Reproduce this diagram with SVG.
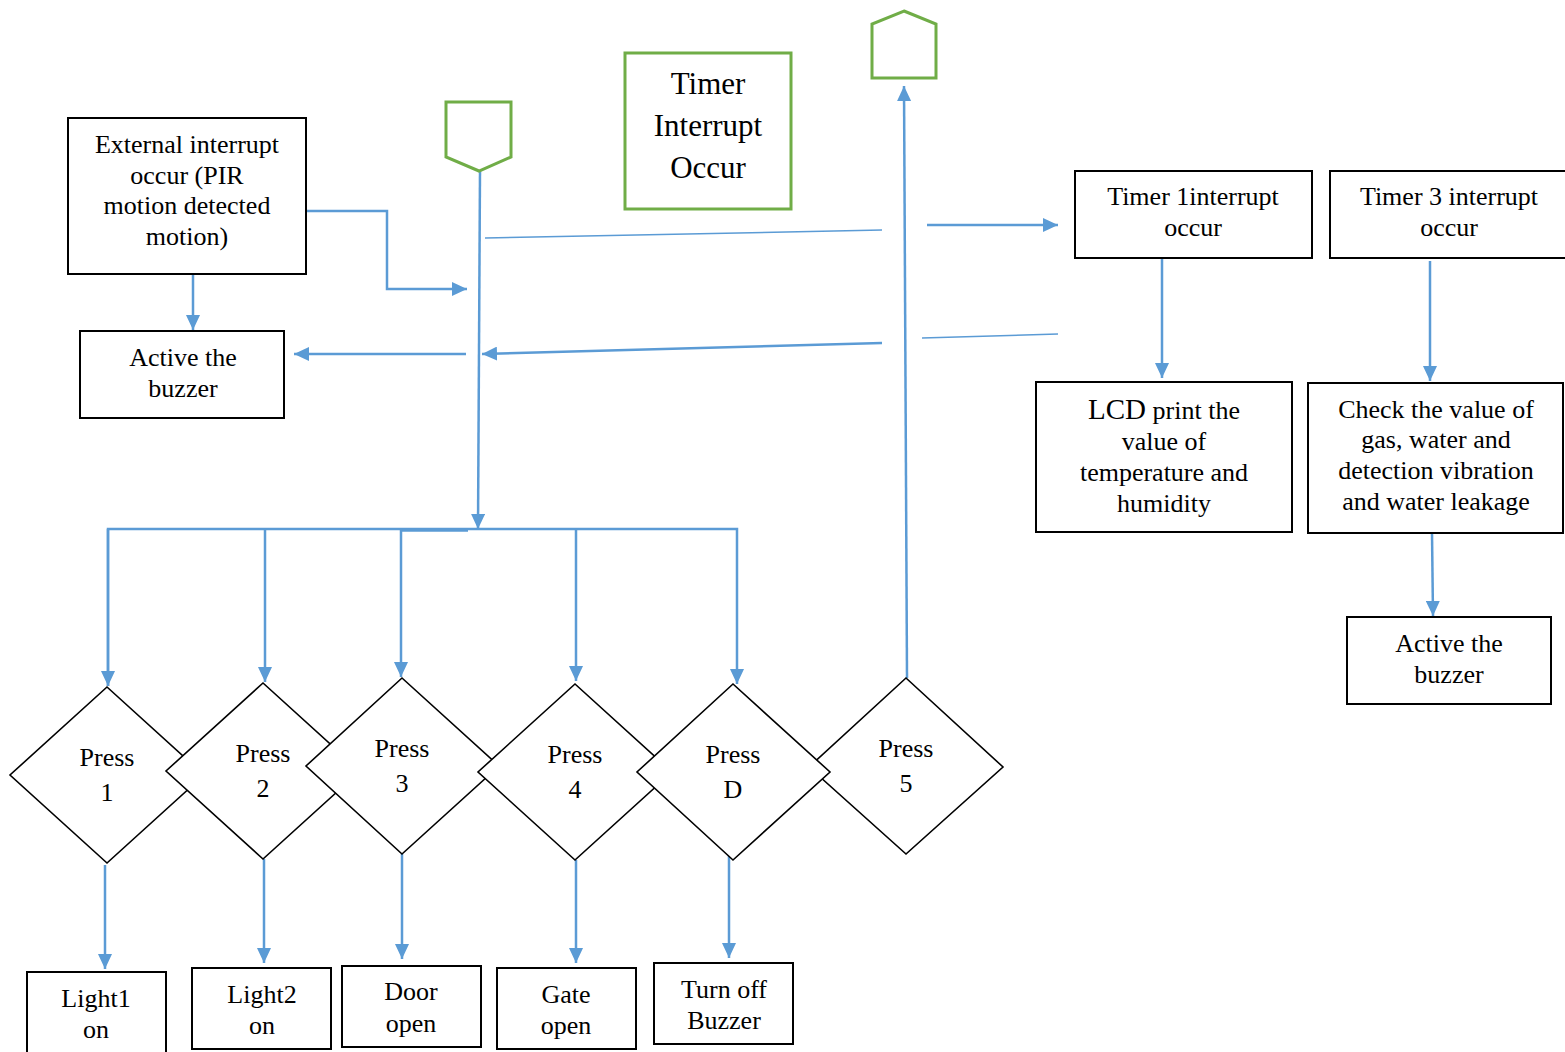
<svg xmlns="http://www.w3.org/2000/svg" width="1565" height="1052" viewBox="0 0 1565 1052">
  <style>
    .box { fill: #ffffff; stroke: #000000; stroke-width: 2; }
    .green { fill: #ffffff; stroke: #70ad47; stroke-width: 3; }
    .dia { fill: #ffffff; stroke: #000000; stroke-width: 1.6; }
    .t { font-family: "Liberation Serif", "Times New Roman", serif; font-size: 26px; fill: #000000; text-anchor: middle; }
    .big { font-size: 31px; }
    .con { fill: none; stroke: #5b9bd5; stroke-width: 2.5; }
    .thin { fill: none; stroke: #5b9bd5; stroke-width: 1.5; }
  </style>
  <defs>
    <marker id="arr" markerUnits="userSpaceOnUse" markerWidth="16" markerHeight="14" refX="15" refY="7" orient="auto">
      <path d="M0,0 L15,7 L0,14 z" fill="#5b9bd5"/>
    </marker>
  </defs>
  <rect width="1565" height="1052" fill="#ffffff"/>

  <!-- connectors -->
  <g id="connectors">
    <line class="con" x1="193" y1="274" x2="193" y2="330" marker-end="url(#arr)"/>
    <polyline class="con" points="306,211 387,211 387,289 467,289" marker-end="url(#arr)"/>
    <line class="con" x1="480" y1="171" x2="478" y2="529" marker-end="url(#arr)"/>
    <line class="thin" x1="485" y1="238" x2="882" y2="230"/>
    <line class="con" x1="927" y1="225" x2="1058" y2="225" marker-end="url(#arr)"/>
    <line class="thin" x1="922" y1="338" x2="1058" y2="334"/>
    <line class="con" x1="882" y1="343" x2="482" y2="354" marker-end="url(#arr)"/>
    <line class="con" x1="466" y1="354" x2="294" y2="354" marker-end="url(#arr)"/>
    <line class="con" x1="907" y1="678" x2="904" y2="86" marker-end="url(#arr)"/>
    <line class="con" x1="1162" y1="258" x2="1162" y2="378" marker-end="url(#arr)"/>
    <line class="con" x1="1430" y1="261" x2="1430" y2="381" marker-end="url(#arr)"/>
    <line class="con" x1="1432" y1="533" x2="1433" y2="616" marker-end="url(#arr)"/>
    <!-- distribution bar and branches -->
    <polyline class="con" points="108,686 108,529 737,529 737,684" marker-end="url(#arr)"/>
    <line class="con" x1="401" y1="530" x2="468" y2="530" style="stroke-width:3.5"/>
    <line class="con" x1="108" y1="529" x2="108" y2="686" marker-end="url(#arr)"/>
    <line class="con" x1="265" y1="529" x2="265" y2="682" marker-end="url(#arr)"/>
    <line class="con" x1="401" y1="529" x2="401" y2="677" marker-end="url(#arr)"/>
    <line class="con" x1="576" y1="529" x2="576" y2="681" marker-end="url(#arr)"/>
    <!-- from decisions to actions -->
    <line class="con" x1="105" y1="865" x2="105" y2="969" marker-end="url(#arr)"/>
    <line class="con" x1="264" y1="859" x2="264" y2="963" marker-end="url(#arr)"/>
    <line class="con" x1="402" y1="854" x2="402" y2="959" marker-end="url(#arr)"/>
    <line class="con" x1="576" y1="860" x2="576" y2="963" marker-end="url(#arr)"/>
    <line class="con" x1="729" y1="855" x2="729" y2="958" marker-end="url(#arr)"/>
  </g>

  <!-- off-page connectors -->
  <g id="offpage-in">
    <polygon class="green" points="446,102 511,102 511,157 479,171 446,157"/>
  </g>
  <g id="offpage-out">
    <polygon class="green" points="904,11 936,24 936,78 872,78 872,24"/>
  </g>

  <g id="timer-interrupt">
    <rect class="green" x="625" y="53" width="166" height="156"/>
    <text class="t big" x="708" y="94">Timer</text>
    <text class="t big" x="708" y="136">Interrupt</text>
    <text class="t big" x="708" y="178">Occur</text>
  </g>

  <g id="external-interrupt">
    <rect class="box" x="68" y="118" width="238" height="156"/>
    <text class="t" x="187" y="153">External interrupt</text>
    <text class="t" x="187" y="184">occur (PIR</text>
    <text class="t" x="187" y="214">motion detected</text>
    <text class="t" x="187" y="245">motion)</text>
  </g>

  <g id="buzzer-left">
    <rect class="box" x="80" y="331" width="204" height="87"/>
    <text class="t" x="183" y="366">Active the</text>
    <text class="t" x="183" y="397">buzzer</text>
  </g>

  <g id="timer1">
    <rect class="box" x="1075" y="171" width="237" height="87"/>
    <text class="t" x="1193" y="205">Timer 1interrupt</text>
    <text class="t" x="1193" y="236">occur</text>
  </g>

  <g id="timer3">
    <rect class="box" x="1330" y="171" width="245" height="87"/>
    <text class="t" x="1449" y="205">Timer 3 interrupt</text>
    <text class="t" x="1449" y="236">occur</text>
  </g>

  <g id="lcd">
    <rect class="box" x="1036" y="382" width="256" height="150"/>
    <text class="t" x="1164" y="419"><tspan style="font-size:29px">LCD</tspan> print the</text>
    <text class="t" x="1164" y="450">value of</text>
    <text class="t" x="1164" y="481">temperature and</text>
    <text class="t" x="1164" y="512">humidity</text>
  </g>

  <g id="check-sensors">
    <rect class="box" x="1308" y="383" width="255" height="150"/>
    <text class="t" x="1436" y="418">Check the value of</text>
    <text class="t" x="1436" y="448">gas, water and</text>
    <text class="t" x="1436" y="479">detection vibration</text>
    <text class="t" x="1436" y="510">and water leakage</text>
  </g>

  <g id="buzzer-right">
    <rect class="box" x="1347" y="617" width="204" height="87"/>
    <text class="t" x="1449" y="652">Active the</text>
    <text class="t" x="1449" y="683">buzzer</text>
  </g>

  <!-- decisions -->
  <g id="press1">
    <polygon class="dia" points="107,687 204,775 107,863 10,775"/>
    <text class="t" x="107" y="766">Press</text>
    <text class="t" x="107" y="801">1</text>
  </g>
  <g id="press2">
    <polygon class="dia" points="263,683 360,771 263,859 166,771"/>
    <text class="t" x="263" y="762">Press</text>
    <text class="t" x="263" y="797">2</text>
  </g>
  <g id="press3">
    <polygon class="dia" points="402,678 499,766 402,854 306,766"/>
    <text class="t" x="402" y="757">Press</text>
    <text class="t" x="402" y="792">3</text>
  </g>
  <g id="press4">
    <polygon class="dia" points="575,684 672,772 575,860 478,772"/>
    <text class="t" x="575" y="763">Press</text>
    <text class="t" x="575" y="798">4</text>
  </g>
  <g id="press5">
    <polygon class="dia" points="906,678 1003,767 906,854 809,767"/>
    <text class="t" x="906" y="757">Press</text>
    <text class="t" x="906" y="792">5</text>
  </g>
  <g id="pressD">
    <polygon class="dia" points="733,684 830,772 733,860 637,772"/>
    <text class="t" x="733" y="763">Press</text>
    <text class="t" x="733" y="798">D</text>
  </g>

  <!-- actions -->
  <g id="light1">
    <rect class="box" x="27" y="972" width="139" height="90"/>
    <text class="t" x="96" y="1007">Light1</text>
    <text class="t" x="96" y="1038">on</text>
  </g>
  <g id="light2">
    <rect class="box" x="192" y="968" width="139" height="81"/>
    <text class="t" x="262" y="1003">Light2</text>
    <text class="t" x="262" y="1034">on</text>
  </g>
  <g id="door">
    <rect class="box" x="342" y="966" width="139" height="81"/>
    <text class="t" x="411" y="1000">Door</text>
    <text class="t" x="411" y="1032">open</text>
  </g>
  <g id="gate">
    <rect class="box" x="497" y="968" width="139" height="81"/>
    <text class="t" x="566" y="1003">Gate</text>
    <text class="t" x="566" y="1034">open</text>
  </g>
  <g id="turn-off-buzzer">
    <rect class="box" x="654" y="963" width="139" height="81"/>
    <text class="t" x="724" y="998">Turn off</text>
    <text class="t" x="724" y="1029">Buzzer</text>
  </g>
</svg>
